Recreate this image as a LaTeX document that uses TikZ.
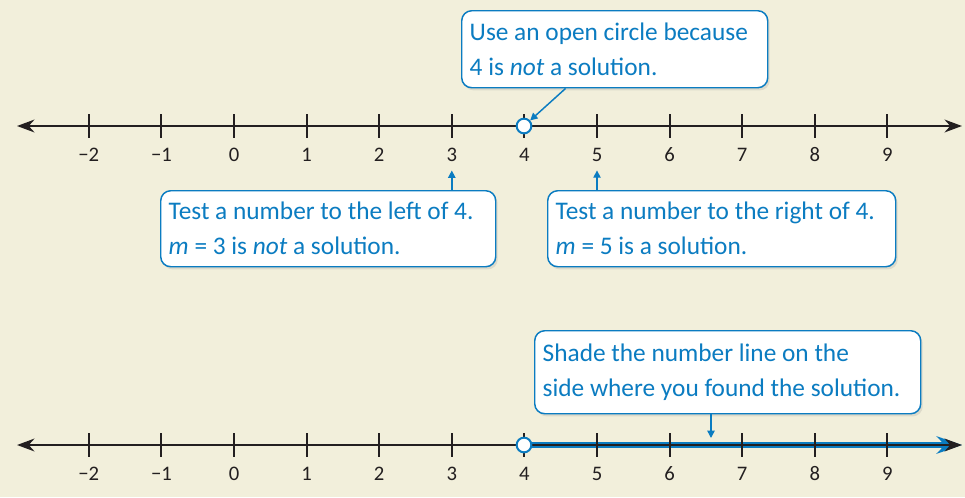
\documentclass[tikz,border=0pt]{standalone}
\usepackage{fontspec}
\setmainfont{Carlito}
\usetikzlibrary{arrows.meta, calc, shadows}

\definecolor{pagecream}{HTML}{F2EFDB}
\definecolor{calloutblue}{HTML}{0B7CC1}
\definecolor{inkblack}{HTML}{231F20}

\begin{document}
\begin{tikzpicture}[
    x=0.75pt, y=-0.75pt,
    numline/.style={draw=inkblack, line width=2.2pt,
                    {Stealth[length=13pt,width=9.5pt]}-{Stealth[length=13pt,width=9.5pt]}},
    shadeline/.style={draw=calloutblue, line width=4pt,
                      -{Stealth[length=19pt,width=13pt]}},
    tickmark/.style={draw=inkblack, line width=1.5pt},
    numlabel/.style={text=inkblack, font=\fontsize{15.5}{18}\selectfont},
    opendot/.style={circle, draw=calloutblue, fill=white, line width=1.5pt,
                    minimum size=11pt, inner sep=0pt},
    callout/.style={rounded corners=7.5pt, draw=calloutblue, fill=white,
                    line width=1.1pt, text=calloutblue, align=flush left,
                    anchor=north west, inner xsep=6pt, inner ysep=4pt,
                    font=\fontsize{19}{26.25}\selectfont,
                    drop shadow={opacity=0.18, shadow xshift=1.5pt, shadow yshift=-2pt}},
    pointer/.style={draw=calloutblue, line width=1.1pt,
                    -{Triangle[length=5.5pt,width=5.5pt]}}
  ]
    \useasboundingbox[fill=pagecream] (0,0) rectangle (965,497);

    % first number line
    \coordinate (w1) at (17,126);
    \coordinate (e1) at (962,126);
    \draw[numline] (w1) -- (e1);
    \foreach \n in {-2,...,9} {
      \draw[tickmark] ({234+72.6*\n},114) -- ({234+72.6*\n},138);
      \node[numlabel] (top\n) at ({234+72.6*\n},155)
        {\ifnum\n<0 −\number-\n\else\n\fi};
    }
    \node[opendot] (dot1) at (524,126) {};

    % second number line
    \coordinate (w2) at (17,445);
    \coordinate (e2) at (962,445);
    \draw[shadeline] (dot1 |- w2) -- (e2);
    \draw[numline] (w2) -- (e2);
    \foreach \n in {-2,...,9} {
      \draw[tickmark] ({234+72.6*\n},433) -- ({234+72.6*\n},457);
      \node[numlabel] (bot\n) at ({234+72.6*\n},474)
        {\ifnum\n<0 −\number-\n\else\n\fi};
    }
    \node[opendot] (dot2) at (524,445) {};

    % callouts
    \node[callout, text width=217.5pt, minimum height=57.75pt] (open) at (461,10)
      {Use an open circle because\\4 is \textit{not} a solution.};
    \node[callout, text width=239.25pt, minimum height=57pt] (left) at (160,190)
      {Test a number to the left of 4.\\\textit{m} = 3 is \textit{not} a solution.};
    \node[callout, text width=249pt, minimum height=57pt] (right) at (547,190)
      {Test a number to the right of 4.\\\textit{m} = 5 is a solution.};
    \node[callout, text width=277.5pt, minimum height=62.25pt] (shade) at (534,330)
      {Shade the number line on the\\side where you found the solution.};

    \draw[pointer] ($(open.south west)!0.34!(open.south east)$) -- (dot1);
    \draw[pointer] (left.north -| top3) -- ([yshift=-3pt]top3.south);
    \draw[pointer] (right.north -| top5) -- ([yshift=-3pt]top5.south);
    \coordinate (shadetip) at (711,438);
    \draw[pointer] (shade.south -| shadetip) -- (shadetip);
  \end{tikzpicture}
\end{document}
